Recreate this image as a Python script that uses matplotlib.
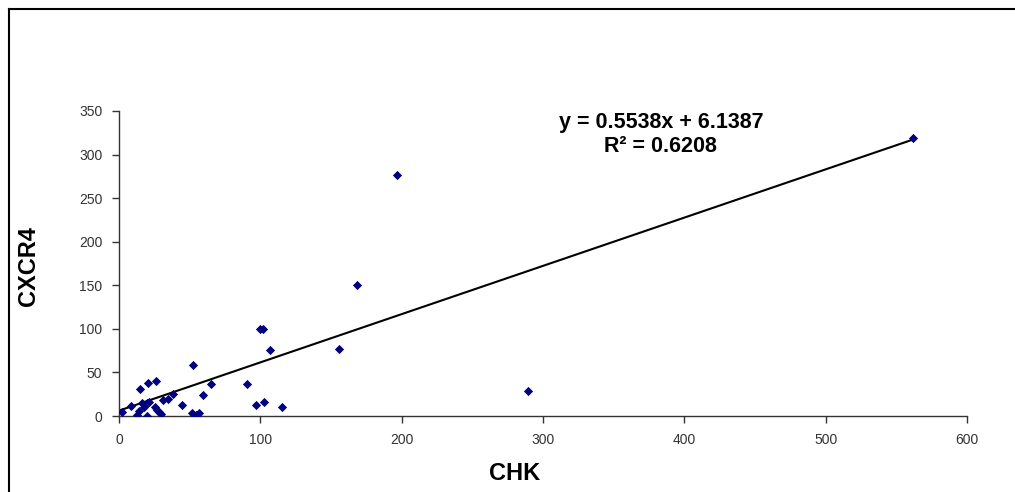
import numpy as np
from matplotlib import pyplot as plt
from matplotlib.lines import Line2D

plt.rcParams['font.family'] = ['Liberation Sans', 'DejaVu Sans']

# Data
chk = [1.9, 8.5, 12.5, 14.4, 14.8, 16.0, 17.9, 20.0, 20.7, 19.6, 21.4, 25.9,
       25.5, 26.6, 28.5, 29.7, 31.4, 34.9, 38.0, 44.6, 52.4, 51.9, 54.5, 56.8,
       59.2, 65.3, 90.3, 96.9, 100.0, 102.0, 102.8, 106.8, 115.0, 155.7,
       168.4, 196.7, 289.4, 562.0]
cxcr4 = [4.3, 11.5, 1.0, 5.7, 31.3, 15.3, 10.7, 15.3, 37.5, 0.0, 16.4, 40.2,
         10.7, 6.9, 4.9, 2.3, 18.4, 19.5, 25.2, 12.3, 58.5, 3.8, 1.5, 3.1,
         23.7, 36.7, 36.7, 12.6, 99.5, 99.5, 16.4, 75.4, 10.7, 76.9,
         150.3, 276.6, 28.7, 318.7]

slope = 0.5538
intercept = 6.1387
r2 = 0.6208

fig = plt.figure(figsize=(10.15, 4.92), dpi=100)
ax = fig.add_axes([119/1015, 76/492, 848/1015, 305/492])

x = np.array(chk)
y = np.array(cxcr4)
ax.scatter(x, y, marker='D', s=22, color='#000080', zorder=3, linewidths=0)

xl = np.array([0, max(chk)])
ax.plot(xl, slope*xl + intercept, color='black', linewidth=1.5, zorder=2)

ax.set_xlim(0, 600)
ax.set_ylim(0, 350)
ax.set_xticks(np.arange(0, 601, 100))
ax.set_yticks(np.arange(0, 351, 50))
ax.spines['top'].set_visible(False)
ax.spines['right'].set_visible(False)
for s in ['left', 'bottom']:
    ax.spines[s].set_color('#333333')
    ax.spines[s].set_linewidth(1.0)
ax.tick_params(direction='out', length=5, width=1, color='#333333',
               labelsize=10, labelcolor='#333333')
ax.tick_params(axis='x', pad=7)
ax.tick_params(axis='y', pad=7)

fig.text(515/1015, 1 - 474/492, 'CHK', ha='center', va='center',
         fontsize=17, fontweight='bold')
fig.text(28/1015, 1 - 266/492, 'CXCR4', ha='center', va='center', rotation=90,
         fontsize=17, fontweight='bold')

fig.text(661/1015, 1 - 122.5/492, 'y = 0.5538x + 6.1387', ha='center', va='center',
         fontsize=15.5, fontweight='bold')
fig.text(660/1015, 1 - 146/492, 'R² = ' + str(r2), ha='center', va='center',
         fontsize=15.5, fontweight='bold')

# outer chart border
fig.add_artist(Line2D([9/1015, 1], [1 - 9/492, 1 - 9/492], color='black', linewidth=1.5))
fig.add_artist(Line2D([9/1015, 9/1015], [0, 1 - 9/492], color='black', linewidth=1.5))

plt.savefig('out.png', dpi=100)
